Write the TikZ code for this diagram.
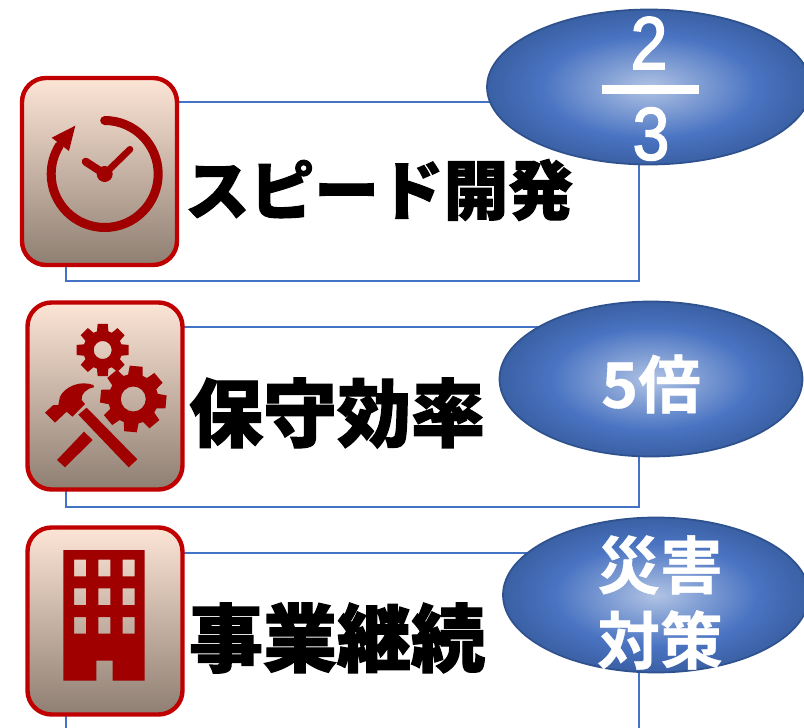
\documentclass[tikz,border=0pt]{standalone}
\usepackage{fontspec}
\usetikzlibrary{shapes.geometric}
\newfontfamily\cjkblack[FakeBold=1.6]{Noto Sans CJK JP Black}
\newfontfamily\cjkbold[FakeBold=0.6]{Noto Sans CJK JP Bold}
\newfontfamily\digitfont[FakeStretch=0.88,FakeBold=2.2]{Liberation Sans}
\definecolor{iconred}{HTML}{A00000}
\definecolor{cardred}{HTML}{C00000}
\definecolor{cardtop}{HTML}{FDE5D6}
\definecolor{cardbot}{HTML}{8E7F72}
\definecolor{framblue}{HTML}{4472C4}
\definecolor{ballA}{HTML}{B0C3E4}
\definecolor{ballB}{HTML}{4A74C2}
\definecolor{ballC}{HTML}{2F528F}
\pgfdeclareradialshading{ballblue}{\pgfpoint{0bp}{0bp}}{color(0bp)=(ballA);color(16.5bp)=(ballB);color(31bp)=(ballC);color(50bp)=(ballC)}
\tikzset{
  card/.style={rectangle,draw=cardred,line width=3.3pt,rounded corners=18pt,top color=cardtop,bottom color=cardbot,minimum width=155*0.75pt,minimum height=187*0.75pt,inner sep=0pt},
  ball/.style={ellipse,draw=ballC,line width=1.3pt,shading=ballblue,inner sep=0pt},
  frameline/.style={draw=framblue,line width=0.8pt},
  title/.style={inner sep=0pt,text=black,font=\cjkblack},
  balltext/.style={inner sep=0pt,text=white,font=\cjkbold},
  icon/.style={fill=iconred,draw=none},
  iconstroke/.style={draw=iconred,line cap=round}
}
% centre x, y, outer, root, hole radius, rotation
\newcommand{\gearicon}[6]{%
  \fill[icon,even odd rule] ({#1+#3*cos(#6-11)},{#2+#3*sin(#6-11)}) \foreach \k in {0,...,7}{
      -- ({#1+#3*cos(\k*45+#6-11)},{#2+#3*sin(\k*45+#6-11)})
      -- ({#1+#3*cos(\k*45+#6+11)},{#2+#3*sin(\k*45+#6+11)})
      -- ({#1+#4*cos(\k*45+#6+17)},{#2+#4*sin(\k*45+#6+17)})
      -- ({#1+#4*cos(\k*45+#6+28)},{#2+#4*sin(\k*45+#6+28)})
    } -- cycle ({#1+#5},{#2}) arc[start angle=0,end angle=360,radius=#5];}
\begin{document}
\begin{tikzpicture}[x=0.75pt,y=-0.75pt]
\useasboundingbox (0,0) rectangle (804,728);
% frames
\coordinate (f1a) at (66,102);\coordinate (f1b) at (639,281);
\coordinate (f2a) at (66,327);\coordinate (f2b) at (639,507);
\coordinate (f3a) at (66,553);\coordinate (f3b) at (639,760);
\draw[frameline] (f1a) rectangle (f1b);
\draw[frameline] (f2a) rectangle (f2b);
\draw[frameline] (f3a) rectangle (f3b);
% cards
\node[card] (c1) at (99.5,171.5) {};
\node[card] (c2) at (105,396) {};
\node[card] (c3) at (105,621) {};
% balls
\node[ball,minimum width=324*0.75pt,minimum height=155*0.75pt] (b1) at (649,87) {};
\node[ball,minimum width=303*0.75pt,minimum height=155*0.75pt] (b2) at (651,379) {};
\node[ball,minimum width=306*0.75pt,minimum height=155*0.75pt] (b3) at (656,595) {};
% titles
\node[title,font=\cjkblack\fontsize{48.5pt}{48.5pt}\selectfont,anchor=center] (t1) at (379,190) {スピード開発};
\node[title,font=\cjkblack\fontsize{55.5pt}{55.5pt}\selectfont,anchor=center] (t2) at (337,413) {保守効率};
\node[title,font=\cjkblack\fontsize{55.5pt}{55.5pt}\selectfont,anchor=center] (t3) at (337,638) {事業継続};
% ball texts
\node[balltext,font=\digitfont\fontsize{56pt}{56pt}\selectfont] (n2) at (649,43) {2};
\fill[white] (602,85) rectangle (699,94);
\node[balltext,font=\digitfont\fontsize{56pt}{56pt}\selectfont] (n3) at (651,134) {3};
\node[balltext,font=\cjkbold\fontsize{47pt}{47pt}\selectfont] (n5) at (651,384) {5倍};
\node[balltext,font=\cjkbold\fontsize{47pt}{47pt}\selectfont] (n6) at (660,565) {災害};
\node[balltext,font=\cjkbold\fontsize{47pt}{47pt}\selectfont] (n7) at (660,640) {対策};
% clock icon
\coordinate (clk) at (104.7,174);
\draw[iconstroke,line width=6.75pt] (clk) ++(-90:53.5) arc[start angle=-90,end angle=212,radius=53.5];
\fill[icon] (75.3,125.7) -- (51.7,137.7) -- (69,151) -- cycle;
\draw[iconstroke,line width=5pt] (clk) -- (130,149.3);
\draw[iconstroke,line width=6pt] (clk) -- (85.7,161.7);
\fill[icon] (clk) circle[radius=8];
% tools icon
\gearicon{102.7}{350}{26.5}{19.5}{9}{-90}
\gearicon{133.3}{399}{33.5}{25}{12.5}{-85}
\begin{scope}[shift={(10,290)},x=0.25pt,y=-0.25pt]
\fill[icon] (205,374) -- (230,353) -- (382,508) -- (356,532) -- cycle;
\fill[icon] (141,510) -- (222,425) -- (248,450) -- (165,532) -- cycle;
\fill[icon] (105,368) -- (130,345) -- (145,345) -- (150,320) .. controls (165,290) and (210,270) .. (250,285) -- (252,292) .. controls (230,295) and (212,312) .. (215,330) -- (225,342) -- (187,380) -- (170,365) -- (135,398) -- cycle;
\end{scope}
% building icon
\begin{scope}[shift={(10,515)},x=0.25pt,y=-0.25pt]
\fill[icon,even odd rule] (160,105) -- (404,105) -- (404,497) -- (308,497) -- (308,437) -- (259,437) -- (259,497) -- (160,497) -- cycle
  \foreach \wx in {192,265,338}{ \foreach \wy in {134,220,306}{
     (\wx,\wy) rectangle (\wx+36,\wy+50) } };
\end{scope}
\end{tikzpicture}
\end{document}
